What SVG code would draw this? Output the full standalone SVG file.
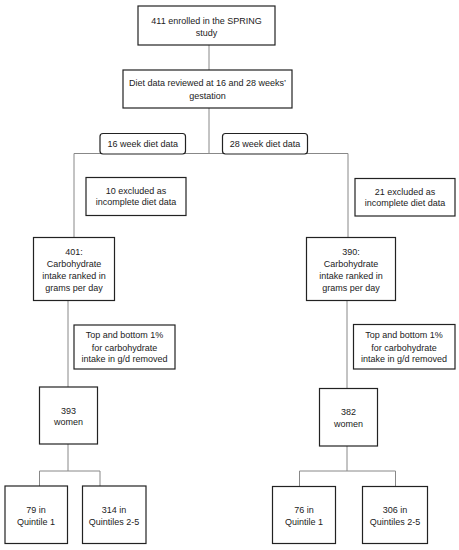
<svg xmlns="http://www.w3.org/2000/svg" width="459" height="550" viewBox="0 0 459 550">
<style>
.box{fill:#fff;stroke:#222;stroke-width:1.2}
.con{fill:none;stroke:#888;stroke-width:1}
text{font-family:"Liberation Sans",Arial,sans-serif;font-size:9px;fill:#222;text-anchor:middle}
</style>
<rect width="459" height="550" fill="#fff"/>
<g id="connectors">
<path class="con" d="M209,45V70M209,108V153.5M74,153.5H348M74,153.5V237.5M348,153.5V237.5"/>
<path class="con" d="M68,300V387M68,444V471M39.5,471H100M39.5,471V486M100,471V486"/>
<path class="con" d="M347,300V388M347,446V471M299.5,471H395.5M299.5,471V486.5M395.5,471V486.5"/>
</g>
<g id="n1"><rect class="box" x="138" y="6" width="137" height="39"/><text x="206.5" y="23.5">411 enrolled in the SPRING</text><text x="206.5" y="35.5">study</text></g>
<g id="n2"><rect class="box" x="123" y="70" width="169" height="38"/><text x="207.5" y="86">Diet data reviewed at 16 and 28 weeks’</text><text x="207.5" y="99">gestation</text></g>
<g id="n3"><rect class="box" x="100" y="133.5" width="85.5" height="20.5" rx="3"/><text x="142.7" y="147">16 week diet data</text></g>
<g id="n4"><rect class="box" x="222.5" y="133.5" width="85" height="20.5" rx="3"/><text x="265" y="147">28 week diet data</text></g>
<g id="n5"><rect class="box" x="86" y="177.5" width="100" height="38"/><text x="136" y="194">10 excluded as</text><text x="136" y="205">incomplete diet data</text></g>
<g id="n6"><rect class="box" x="355" y="178.5" width="100" height="37.5"/><text x="405" y="195">21 excluded as</text><text x="405" y="206">incomplete diet data</text></g>
<g id="n7"><rect class="box" x="33.5" y="237.5" width="81" height="63"/><text x="74" y="254.5">401:</text><text x="74" y="266.5">Carbohydrate</text><text x="74" y="278.5">intake ranked in</text><text x="74" y="290.5">grams per day</text></g>
<g id="n8"><rect class="box" x="306.5" y="237.5" width="89" height="63"/><text x="351" y="254.5">390:</text><text x="351" y="266.5">Carbohydrate</text><text x="351" y="278.5">intake ranked in</text><text x="351" y="290.5">grams per day</text></g>
<g id="n9"><rect class="box" x="74" y="325" width="101" height="44"/><text x="124.5" y="338">Top and bottom 1%</text><text x="124.5" y="350.5">for carbohydrate</text><text x="124.5" y="362">intake in g/d removed</text></g>
<g id="n10"><rect class="box" x="353.5" y="324.5" width="101.5" height="44.5"/><text x="404" y="338">Top and bottom 1%</text><text x="404" y="350.5">for carbohydrate</text><text x="404" y="362">intake in g/d removed</text></g>
<g id="n11"><rect class="box" x="39.5" y="387" width="58" height="57"/><text x="68.5" y="413.5">393</text><text x="68.5" y="425">women</text></g>
<g id="n12"><rect class="box" x="319.5" y="388.5" width="58" height="57.5"/><text x="348.5" y="415">382</text><text x="348.5" y="427">women</text></g>
<g id="n13"><rect class="box" x="5" y="486" width="62.5" height="57.5"/><text x="36" y="513">79 in</text><text x="36" y="524.5">Quintile 1</text></g>
<g id="n14"><rect class="box" x="82.5" y="486" width="63.5" height="57.5"/><text x="114" y="513">314 in</text><text x="114" y="524.5">Quintiles 2-5</text></g>
<g id="n15"><rect class="box" x="272.5" y="486.5" width="63" height="57"/><text x="304" y="513">76 in</text><text x="304" y="524.5">Quintile 1</text></g>
<g id="n16"><rect class="box" x="362.5" y="486.5" width="65" height="57"/><text x="395" y="513">306 in</text><text x="395" y="524.5">Quintiles 2-5</text></g>
</svg>
